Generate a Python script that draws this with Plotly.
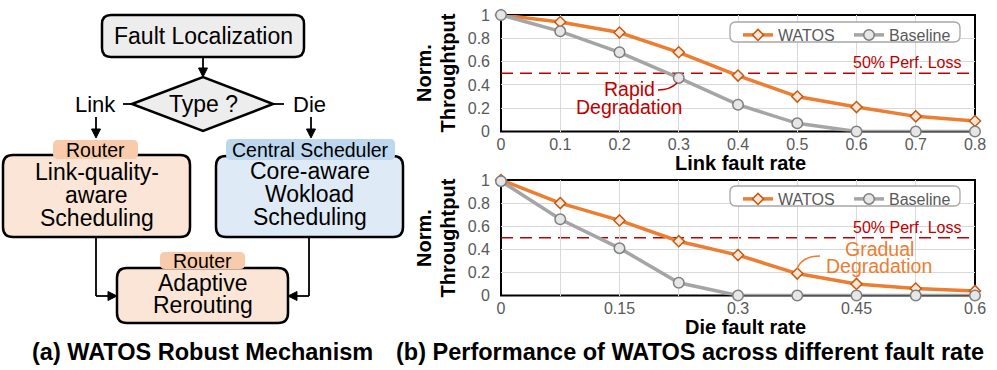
import plotly.graph_objects as go

# ---- data ----
link_rate = [0, 0.1, 0.2, 0.3, 0.4, 0.5, 0.6, 0.7, 0.8]
link_watos = [1.0, 0.94, 0.85, 0.68, 0.48, 0.30, 0.21, 0.13, 0.09]
link_base = [1.0, 0.86, 0.68, 0.46, 0.23, 0.07, 0.0, 0.0, 0.0]
link_tick_labels = ['0', '0.1', '0.2', '0.3', '0.4', '0.5', '0.6', '0.7', '0.8']

die_rate = [0, 0.075, 0.15, 0.225, 0.3, 0.375, 0.45, 0.525, 0.6]
die_watos = [1.0, 0.80, 0.65, 0.47, 0.35, 0.19, 0.10, 0.06, 0.04]
die_base = [0.99, 0.66, 0.41, 0.11, 0.0, 0.0, 0.0, 0.0, 0.0]
die_tick_labels = ['0', '', '0.15', '', '0.3', '', '0.45', '', '0.6']

y_tick_vals = [0, 0.2, 0.4, 0.6, 0.8, 1]
y_tick_labels = ['0', '0.2', '0.4', '0.6', '0.8', '1']
perf_loss = 0.5

W, H = 997, 370
FONT = 'Liberation Sans, Arial, sans-serif'
ORANGE, ORANGE_FILL, ORANGE_EDGE = '#ED7D31', '#FBE5D6', '#C55A11'
GRAY, GRAY_FILL, GRAY_EDGE = '#A5A5A5', '#E7E6E6', '#7F7F7F'
RED = '#C00000'
TICK = '#595959'
GRID = '#D9D9D9'


def fx(p):
    return p / W


def fy(p):
    return 1 - p / H


def rrect_path(x0, y0, x1, y1, r):
    # rounded rectangle in pixel coords -> paper path
    pts = [
        ('M', x0 + r, y0), ('L', x1 - r, y0), ('Q', x1, y0, x1, y0 + r),
        ('L', x1, y1 - r), ('Q', x1, y1, x1 - r, y1),
        ('L', x0 + r, y1), ('Q', x0, y1, x0, y1 - r),
        ('L', x0, y0 + r), ('Q', x0, y0, x0 + r, y0),
    ]
    out = ''
    for p in pts:
        cmd = p[0]
        nums = p[1:]
        coords = []
        for i in range(0, len(nums), 2):
            coords.append(f'{fx(nums[i]):.5f},{fy(nums[i + 1]):.5f}')
        out += cmd + ' '.join(coords) + ' '
    return out + 'Z'


def poly_path(pts):
    s = 'M' + ' L'.join(f'{fx(x):.5f},{fy(y):.5f}' for x, y in pts)
    return s + ' Z'


shapes = []
annotations = []


def box(x0, y0, x1, y1, fill, r=9, lw=2.5, line='black'):
    shapes.append(dict(type='path', xref='paper', yref='paper', path=rrect_path(x0, y0, x1, y1, r),
                       fillcolor=fill, line=dict(color=line, width=lw), layer='above'))


def seg(x0, y0, x1, y1, lw=1.8):
    shapes.append(dict(type='line', xref='paper', yref='paper', x0=fx(x0), y0=fy(y0), x1=fx(x1), y1=fy(y1),
                       line=dict(color='black', width=lw), layer='above'))


def head(pts):
    shapes.append(dict(type='path', xref='paper', yref='paper', path=poly_path(pts),
                       fillcolor='black', line=dict(color='black', width=1), layer='above'))


def label(x, y, s, size, color='black', **kw):
    a = dict(xref='paper', yref='paper', x=fx(x), y=fy(y), text=s, showarrow=False,
             font=dict(size=size, color=color, family=FONT), xanchor='center', yanchor='middle')
    a.update(kw)
    annotations.append(a)


# ---- (a) flowchart ----
box(102, 15, 304, 57, '#EDEDED', r=9)
label(203, 36, 'Fault Localization', 23)
seg(203, 57, 203, 69)
head([(198.5, 68), (207.5, 68), (203, 77)])

shapes.append(dict(type='path', xref='paper', yref='paper',
                   path=poly_path([(132, 104), (203, 77), (273, 104), (203, 131)]),
                   fillcolor='#EDEDED', line=dict(color='black', width=2.5), layer='above'))
label(203, 104, 'Type ?', 23)
label(95, 104, 'Link', 22)
seg(123, 104, 132, 104)
label(309, 104, 'Die', 22)
seg(273, 104, 284, 104)

seg(96, 117, 96, 130)
head([(91.5, 129), (100.5, 129), (96, 138)])
seg(311, 117, 311, 130)
head([(306.5, 129), (315.5, 129), (311, 138)])

# left: link-quality-aware scheduling
box(3, 155, 190, 237, '#FBE5D6', r=10)
box(53, 140, 138, 159, '#F8CBAD', r=5, lw=0, line='rgba(0,0,0,0)')
label(95.5, 149.5, 'Router', 19.5)
for txt, yy in zip(['Link-quality-', 'aware', 'Scheduling'], [172, 195, 218]):
    label(96.5, yy, txt, 23)

# right: core-aware workload scheduling
box(216, 156, 403, 237, '#DEEBF7', r=10)
box(226, 139, 395, 160, '#BDD7EE', r=5, lw=0, line='rgba(0,0,0,0)')
label(310.5, 149.5, 'Central Scheduler', 19.5)
for txt, yy in zip(['Core-aware', 'Wokload', 'Scheduling'], [171, 194, 217]):
    label(309.5, yy, txt, 23)

# bottom: adaptive rerouting
seg(96, 237, 96, 296)
seg(96, 296, 109, 296)
head([(108, 291.5), (108, 300.5), (117, 296)])
seg(309, 237, 309, 296)
seg(309, 296, 296, 296)
head([(297, 291.5), (297, 300.5), (288, 296)])
box(117, 268, 288, 323, '#FBE5D6', r=10)
box(160, 252, 245, 269, '#F8CBAD', r=5, lw=0, line='rgba(0,0,0,0)')
label(202.5, 260.5, 'Router', 19.5)
label(202.5, 283, 'Adaptive', 23)
label(202.5, 305, 'Rerouting', 23)

# captions
label(202.5, 352, '<b>(a) WATOS Robust Mechanism</b>', 23.5)
label(690, 352, '<b>(b) Performance of WATOS across different fault rate</b>', 23.5)

# ---- (b) line charts ----
fig = go.Figure()


def add_pair(xs, w, b, xa, ya, leg):
    fig.add_trace(go.Scatter(
        x=xs, y=w, name='WATOS', mode='lines+markers', xaxis=xa, yaxis=ya, legend=leg, legendwidth=66,
        line=dict(color=ORANGE, width=3.5), cliponaxis=False,
        marker=dict(symbol='diamond', size=8.5, color=ORANGE_FILL, line=dict(color=ORANGE_EDGE, width=1.5))))
    fig.add_trace(go.Scatter(
        x=xs, y=b, name='Baseline', mode='lines+markers', xaxis=xa, yaxis=ya, legend=leg,
        line=dict(color=GRAY, width=3.5), cliponaxis=False,
        marker=dict(symbol='circle', size=10.5, color=GRAY_FILL, line=dict(color=GRAY_EDGE, width=1.5))))


add_pair(link_rate, link_watos, link_base, 'x', 'y', 'legend')
add_pair(die_rate, die_watos, die_base, 'x2', 'y2', 'legend2')

for xr, yr, xmax in [('x', 'y', link_rate[-1]), ('x2', 'y2', die_rate[-1])]:
    # plot frame below the traces so markers sit on top of it
    shapes.append(dict(type='rect', xref=xr + ' domain', yref=yr + ' domain', x0=0, x1=1, y0=0, y1=1,
                       line=dict(color='black', width=2), fillcolor='rgba(0,0,0,0)', layer='below'))
    shapes.append(dict(type='line', xref=xr, yref=yr, x0=0, x1=xmax, y0=perf_loss, y1=perf_loss,
                       line=dict(color=RED, width=1.6, dash='12px,7px'), layer='below'))
    annotations.append(dict(xref=xr, yref=yr, x=xmax, y=perf_loss, text='50% Perf. Loss', showarrow=False,
                            xanchor='right', yanchor='bottom', xshift=-11, yshift=0,
                            font=dict(size=16, color=RED, family=FONT)))

# legend frames (rounded)
for y0 in (22, 186):
    shapes.append(dict(type='path', xref='paper', yref='paper', path=rrect_path(730, y0, 960, y0 + 20, 6),
                       fillcolor='white', line=dict(color='#A6A6A6', width=1.3), layer='above'))

# callouts
label(629.5, 89, 'Rapid', 19.5, RED)
label(629, 107, 'Degradation', 19.5, RED)
shapes.append(dict(type='path', xref='paper', yref='paper',
                   path=f'M{fx(658):.5f},{fy(90):.5f} Q{fx(670):.5f},{fy(90):.5f} {fx(677):.5f},{fy(83):.5f}',
                   line=dict(color=RED, width=1.5), layer='above'))
label(879.5, 249, 'Gradual', 19.5, ORANGE)
label(878.5, 266, 'Degradation', 19.5, ORANGE)
shapes.append(dict(type='path', xref='paper', yref='paper',
                   path=f'M{fx(797):.5f},{fy(269):.5f} Q{fx(802):.5f},{fy(256):.5f} {fx(820):.5f},{fy(256):.5f}',
                   line=dict(color=ORANGE, width=1.5), layer='above'))

# axis titles
label(740, 163, '<b>Link fault rate</b>', 20)
label(745, 327, '<b>Die fault rate</b>', 20)
for yc in (73, 238):
    label(424, yc, '<b>Norm.</b>', 20, textangle=-90)
    label(447.5, yc, '<b>Throughtput</b>', 20, textangle=-90)

axis_common = dict(showgrid=True, gridcolor=GRID, gridwidth=1, zeroline=False, showline=False,
                   ticks='', automargin=False,
                   tickfont=dict(size=16, color=TICK, family=FONT), fixedrange=True)

legend_common = dict(orientation='h', xanchor='left', yanchor='top', bgcolor='rgba(0,0,0,0)',
                     borderwidth=0, font=dict(size=16, color=TICK, family=FONT), itemwidth=30,
                     tracegroupgap=0)

fig.update_layout(
    width=W, height=H, autosize=False,
    margin=dict(l=0, r=0, t=0, b=0, pad=0, autoexpand=False),
    paper_bgcolor='white', plot_bgcolor='white',
    font=dict(family=FONT),
    showlegend=True,
    xaxis=dict(domain=[fx(501), fx(975)], range=[0, link_rate[-1]], anchor='y',
               tickmode='array', tickvals=link_rate, ticktext=link_tick_labels,
               ticklabelstandoff=1, **axis_common),
    yaxis=dict(domain=[fy(131.5), fy(15)], range=[0, 1], anchor='x',
               tickmode='array', tickvals=y_tick_vals, ticktext=y_tick_labels,
               ticklabelstandoff=10, **axis_common),
    xaxis2=dict(domain=[fx(501), fx(975)], range=[0, die_rate[-1]], anchor='y2',
                tickmode='array', tickvals=die_rate, ticktext=die_tick_labels,
                ticklabelstandoff=1, **axis_common),
    yaxis2=dict(domain=[fy(295.5), fy(180)], range=[0, 1], anchor='x2',
                tickmode='array', tickvals=y_tick_vals, ticktext=y_tick_labels,
                ticklabelstandoff=10, **axis_common),
    legend=dict(x=fx(738), y=fy(18), **legend_common),
    legend2=dict(x=fx(738), y=fy(182), **legend_common),
    shapes=shapes,
    annotations=annotations,
)

# the page's default body margin would push the fixed-size figure off the window
fig.write_html('out.html', config={'displayModeBar': False},
               post_script="document.body.style.margin='0';")
